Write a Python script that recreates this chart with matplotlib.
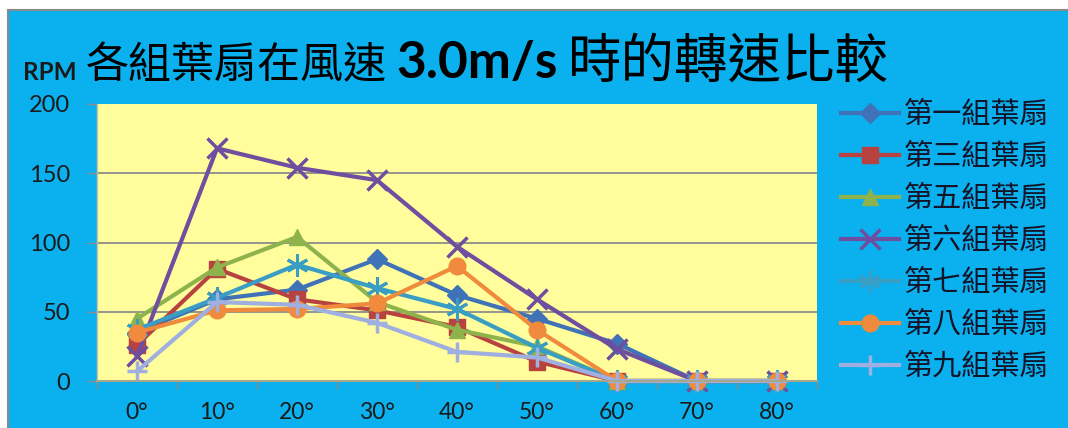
import matplotlib
matplotlib.use("Agg")
import matplotlib.pyplot as plt
from matplotlib.patches import Rectangle
from matplotlib.offsetbox import TextArea, HPacker, AnchoredOffsetbox

# Wind direction angles (categories) and rotational speed per fan group (RPM)
angles = ["0°", "10°", "20°", "30°", "40°", "50°", "60°", "70°", "80°"]
group_names = ["第一組葉扇", "第三組葉扇", "第五組葉扇", "第六組葉扇",
               "第七組葉扇", "第八組葉扇", "第九組葉扇"]
rpm_g1 = [35, 59, 66, 88, 62, 45, 27, 0, 0]
rpm_g3 = [26, 81, 59, 51, 39, 14, 0, 0, 0]
rpm_g5 = [45, 82, 104, 57, 37, 25, 0, 0, 0]
rpm_g6 = [18, 168, 154, 145, 97, 59, 23, 0, 0]
rpm_g7 = [37, 60, 84, 67, 52, 24, 0, 0, 0]
rpm_g8 = [35, 51, 52, 56, 83, 37, 0, 0, 0]
rpm_g9 = [7, 57, 55, 42, 21, 17, 0, 0, 0]
y_ticks = [0, 50, 100, 150, 200]

series = [rpm_g1, rpm_g3, rpm_g5, rpm_g6, rpm_g7, rpm_g8, rpm_g9]
colors = ["#3F72B6", "#B8423F", "#8FB34C", "#6E4E9E", "#3A9EC4", "#F08A3C", "#9FAFE0"]
markers = ["D", "s", "^", "x", (6, 2, 0), "o", "+"]
msizes = [10, 11, 12, 14, 16, 12, 15]
mews = [1, 1, 1, 2.5, 2.2, 1, 2.5]

W, H = 1068, 428
fig = plt.figure(figsize=(W / 100, H / 100), dpi=100, facecolor="white")

# Light-blue chart area with a grey frame on top and left
bg = Rectangle((8 / W, -0.01), 1.0, (H - 10) / H + 0.01, transform=fig.transFigure,
               facecolor="#0BB0EE", edgecolor="#8A8A8A", linewidth=1.5, zorder=-10)
fig.patches.append(bg)

ax = fig.add_axes([97 / W, 1 - 381 / H, (817 - 97) / W, (381 - 104) / H])
ax.set_facecolor("#FFFD9C")

x = list(range(len(angles)))
for vals, name, c, m, ms, mew in zip(series, group_names, colors, markers, msizes, mews):
    ax.plot(x, vals, color=c, lw=3, marker=m, markersize=ms, markeredgewidth=mew,
            markerfacecolor=c, markeredgecolor=c, label=name, clip_on=False,
            solid_joinstyle="miter")

ax.set_xlim(-0.5, len(angles) - 0.5)
ax.set_ylim(0, 200)

for v in y_ticks[1:-1]:
    ax.axhline(v, color="#8C8C8C", lw=1.3, zorder=0.5)

ax.set_yticks(y_ticks)
ax.set_yticklabels([str(v) for v in y_ticks], fontsize=17, family="Lato", color="#1A1A1A")
ax.tick_params(axis="y", length=7, width=1, color="#8C8C8C", pad=12.5, direction="out")

ax.set_xticks(x)
ax.set_xticklabels(angles, fontsize=16.5, family="Lato", color="#1A1A1A")
ax.tick_params(axis="x", which="major", length=0, pad=15)
ax.set_xticks([i - 0.5 for i in range(len(angles) + 1)], minor=True)
ax.tick_params(axis="x", which="minor", length=6, width=1, color="#8C8C8C", direction="out")

for s in ["top", "right"]:
    ax.spines[s].set_visible(False)
ax.spines["left"].set_color("#C8C6A0")
ax.spines["left"].set_linewidth(1)
ax.spines["bottom"].set_color("#A8A68A")
ax.spines["bottom"].set_linewidth(1.5)

# Axis unit label
fig.text(23 / W, 1 - 80 / H, "RPM", fontsize=17.5, fontweight="bold", family="Lato",
         color="#1A1A1A", va="baseline", ha="left")

# Title with bold latin part
cjk = ["Noto Sans CJK TC", "DejaVu Sans"]
t1 = TextArea("各組葉扇在風速", textprops=dict(fontsize=31, family=cjk, color="black"))
t2 = TextArea("3.0m/s", textprops=dict(fontsize=37, family="Lato", fontweight="bold",
                                        color="black"))
t3 = TextArea("時的轉速比較", textprops=dict(fontsize=38.5, family=cjk, color="black"))
title_box = HPacker(children=[t1, t2, t3], align="baseline", pad=0, sep=7)
anch = AnchoredOffsetbox(loc="lower left", child=title_box, pad=0, borderpad=0,
                         frameon=False, bbox_to_anchor=(86 / W, 1 - 90 / H),
                         bbox_transform=fig.transFigure)
fig.add_artist(anch)

leg = fig.legend(loc="upper left", bbox_to_anchor=(841 / W, 1 - 100 / H),
                 frameon=False, prop=dict(family=cjk, size=21), handlelength=2.0,
                 handletextpad=0.15, labelspacing=0.41, borderpad=0, borderaxespad=0,
                 numpoints=1, labelcolor="#141428")
for h in leg.legend_handles:
    h.set_linewidth(3)

fig.savefig("out.png", dpi=100, facecolor="white")
